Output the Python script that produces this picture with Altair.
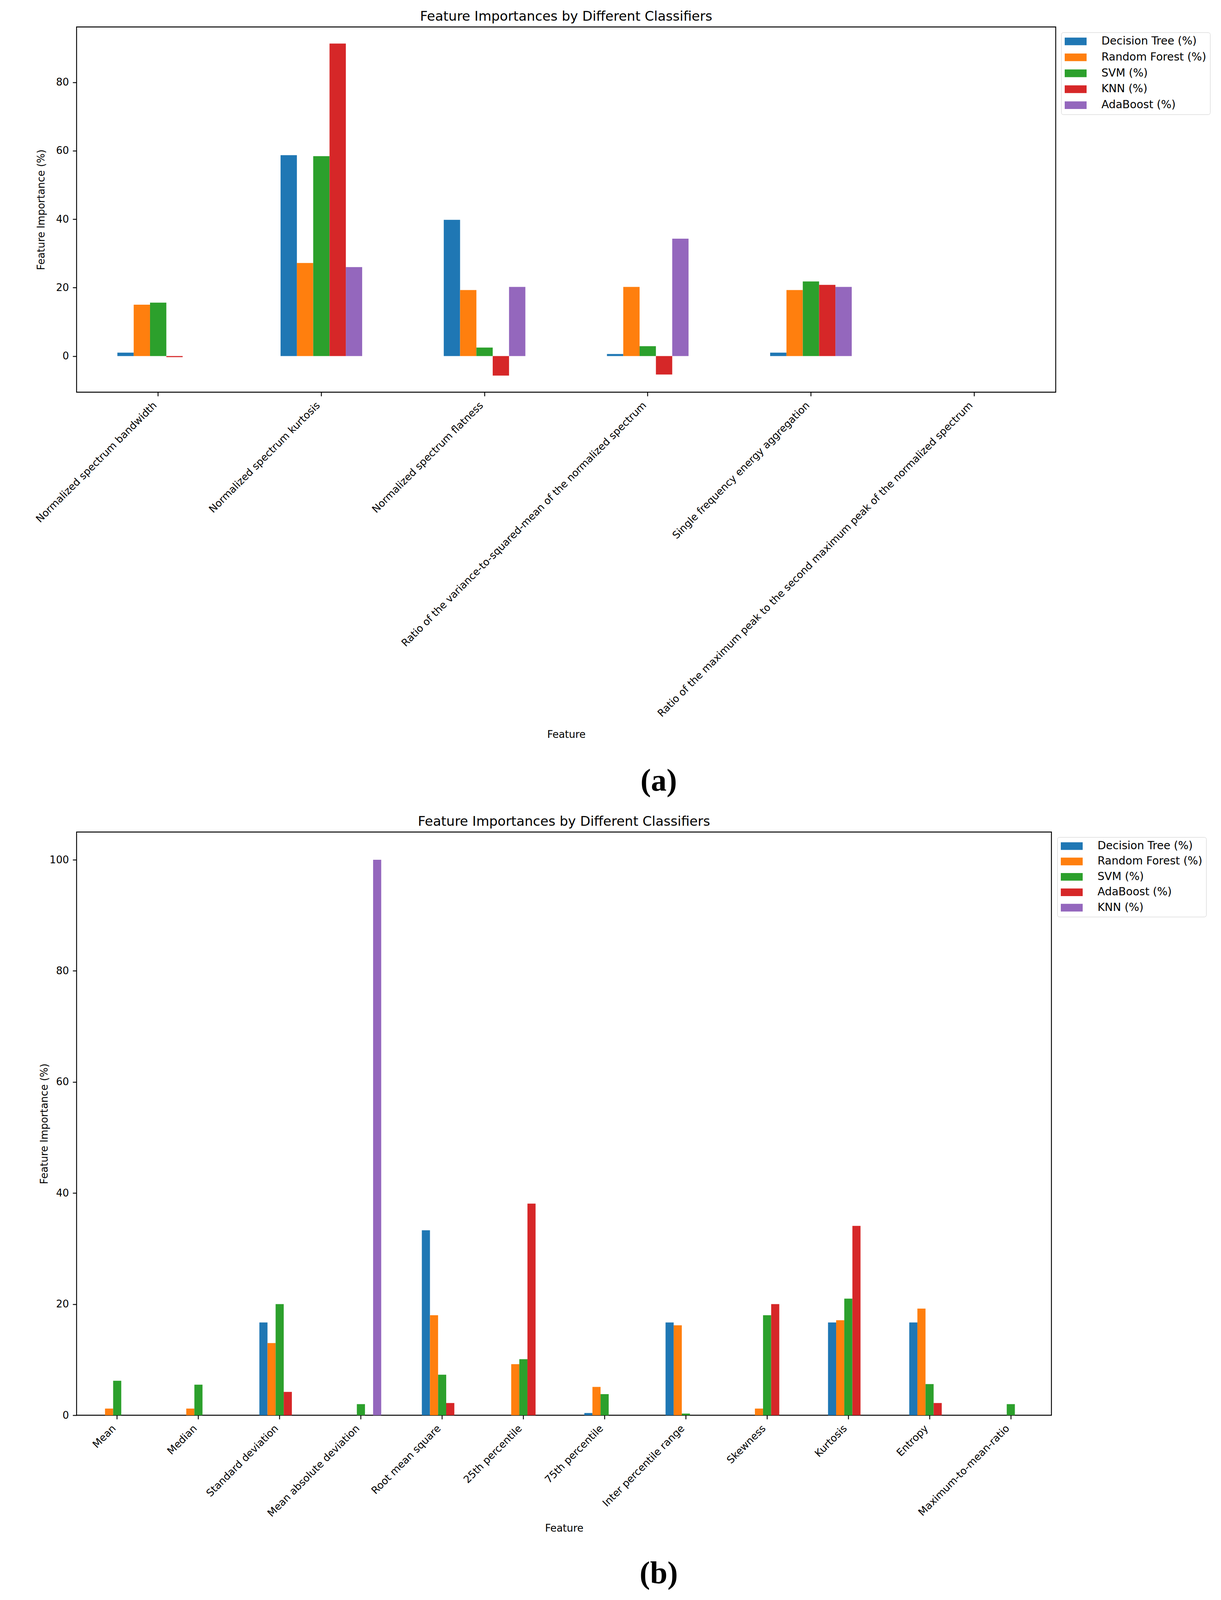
import altair as alt
import pandas as pd

# ---------------- data ----------------
title_text = "Feature Importances by Different Classifiers"
panel_labels = ["(a)", "(b)"]

features_a = [
    "Normalized spectrum bandwidth",
    "Normalized spectrum kurtosis",
    "Normalized spectrum flatness",
    "Ratio of the variance-to-squared-mean of the normalized spectrum",
    "Single frequency energy aggregation",
    "Ratio of the maximum peak to the second maximum peak of the normalized spectrum",
]
classifiers_a = ["Decision Tree (%)", "Random Forest (%)", "SVM (%)", "KNN (%)", "AdaBoost (%)"]
dt_a = [1.0, 58.7, 39.8, 0.6, 1.0, 0.0]
rf_a = [15.0, 27.2, 19.3, 20.2, 19.3, 0.0]
svm_a = [15.6, 58.4, 2.5, 2.9, 21.8, 0.0]
knn_a = [-0.3, 91.3, -5.7, -5.4, 20.8, 0.0]
ada_a = [0.0, 26.0, 20.2, 34.3, 20.2, 0.0]
y_domain_a = [-10.55, 96.15]
y_ticks_a = [0, 20, 40, 60, 80]

features_b = [
    "Mean", "Median", "Standard deviation", "Mean absolute deviation",
    "Root mean square", "25th percentile", "75th percentile",
    "Inter percentile range", "Skewness", "Kurtosis", "Entropy",
    "Maximum-to-mean-ratio",
]
classifiers_b = ["Decision Tree (%)", "Random Forest (%)", "SVM (%)", "AdaBoost (%)", "KNN (%)"]
dt_b = [0.0, 0.0, 16.7, 0.0, 33.3, 0.0, 0.4, 16.7, 0.0, 16.7, 16.7, 0.0]
rf_b = [1.2, 1.2, 13.0, 0.0, 18.0, 9.2, 5.1, 16.2, 1.2, 17.1, 19.2, 0.0]
svm_b = [6.2, 5.5, 20.0, 2.0, 7.3, 10.1, 3.8, 0.3, 18.0, 21.0, 5.6, 2.0]
ada_b = [0.0, 0.0, 4.2, 0.0, 2.2, 38.1, 0.0, 0.0, 20.0, 34.1, 2.2, 0.0]
knn_b = [0.0, 0.0, 0.0, 100.0, 0.0, 0.0, 0.0, 0.0, 0.0, 0.0, 0.0, 0.0]
y_domain_b = [0, 105]
y_ticks_b = [0, 20, 40, 60, 80, 100]

colors = ["#1f77b4", "#ff7f0e", "#2ca02c", "#d62728", "#9467bd"]

# ---------------- helpers ----------------
FONT = "DejaVu Sans"
FS = 26
SYMBOL = "M-2,-0.7L2,-0.7L2,0.7L-2,0.7Z"


def long_df(features, classifiers, series):
    rows = []
    for c, vals in zip(classifiers, series):
        for f, v in zip(features, vals):
            rows.append({"feature": f, "classifier": c, "value": v})
    return pd.DataFrame(rows)


def panel(df, features, classifiers, domain, ticks, width, height, lx, ly,
          row_pad, title_y, y_title_pad):
    return alt.Chart(df).mark_bar().encode(
        x=alt.X(
            "feature:N", sort=features, title="Feature",
            scale=alt.Scale(paddingInner=0.5, paddingOuter=0.25),
            axis=alt.Axis(
                labelAngle=-45, labelAlign="right", labelBaseline="top",
                labelOffset=-17, labelPadding=10, labelLimit=4000,
                labelOverlap=False, labelFlush=False,
                tickSize=10, tickWidth=2.3, tickColor="black", domain=False,
                labelFontSize=FS, titleFontSize=FS, titleFontWeight="normal",
                titleY=title_y, titleBaseline="top",
                labelFont=FONT, titleFont=FONT,
                labelColor="black", titleColor="black",
            ),
        ),
        xOffset=alt.XOffset(
            "classifier:N", sort=classifiers,
            scale=alt.Scale(paddingInner=0, paddingOuter=0),
        ),
        y=alt.Y(
            "value:Q", title="Feature Importance (%)",
            scale=alt.Scale(domain=domain, nice=False, zero=False),
            axis=alt.Axis(
                values=ticks, grid=False, domain=False,
                tickSize=10, tickWidth=2.3, tickColor="black",
                labelPadding=10, labelFontSize=FS, titleFontSize=FS,
                titleFontWeight="normal", titlePadding=y_title_pad,
                labelFont=FONT, titleFont=FONT,
                labelColor="black", titleColor="black",
            ),
        ),
        y2=alt.datum(0),
        color=alt.Color(
            "classifier:N", sort=classifiers,
            scale=alt.Scale(domain=classifiers, range=colors),
            legend=alt.Legend(
                title=None, orient="none", legendX=lx, legendY=ly,
                symbolType=SYMBOL, symbolSize=784, symbolOffset=14,
                symbolStrokeWidth=0, labelOffset=52, labelFontSize=28,
                labelFont=FONT, labelColor="black", labelLimit=2000,
                rowPadding=row_pad, padding=9, strokeColor="#cccccc",
                fillColor="white", cornerRadius=5,
            ),
        ),
    ).properties(
        width=width, height=height,
        title=alt.TitleParams(
            title_text, fontSize=34, font=FONT, fontWeight="normal",
            color="black", offset=-18, baseline="alphabetic", anchor="middle",
        ),
    )


def label_chart(text, x, y, height):
    return alt.Chart(pd.DataFrame({"label": [text]})).mark_text(
        font="Liberation Serif", fontSize=80, fontWeight="bold",
        align="center", baseline="alphabetic", color="black",
    ).encode(
        x=alt.value(x), y=alt.value(y), text="label:N",
    ).properties(width=2500, height=height, view=alt.ViewBackground(stroke="transparent"))


df_a = long_df(features_a, classifiers_a, [dt_a, rf_a, svm_a, knn_a, ada_a])
df_b = long_df(features_b, classifiers_b, [dt_b, rf_b, svm_b, ada_b, knn_b])

pa = panel(df_a, features_a, classifiers_a, y_domain_a, y_ticks_a,
           2506, 935, 2520, 14, 12.8, 863, 24)
pb = panel(df_b, features_b, classifiers_b, y_domain_b, y_ticks_b,
           2495, 1493, 2510, 13, 11.4, 276, 0)
la = label_chart(panel_labels[0], 1490, 127, 186)
lb = label_chart(panel_labels[1], 1490, 124, 135)

chart = alt.vconcat(pa, la, pb, lb, spacing=0).resolve_scale(
    x="independent", y="independent", color="independent", xOffset="independent"
).resolve_legend(color="independent").properties(
    padding={"left": 78, "top": 16, "right": 10, "bottom": 8}
).configure(font=FONT, background="white").configure_view(stroke="black", strokeWidth=2.3)

chart.save("out.html", embed_options={"renderer": "svg", "actions": False})
